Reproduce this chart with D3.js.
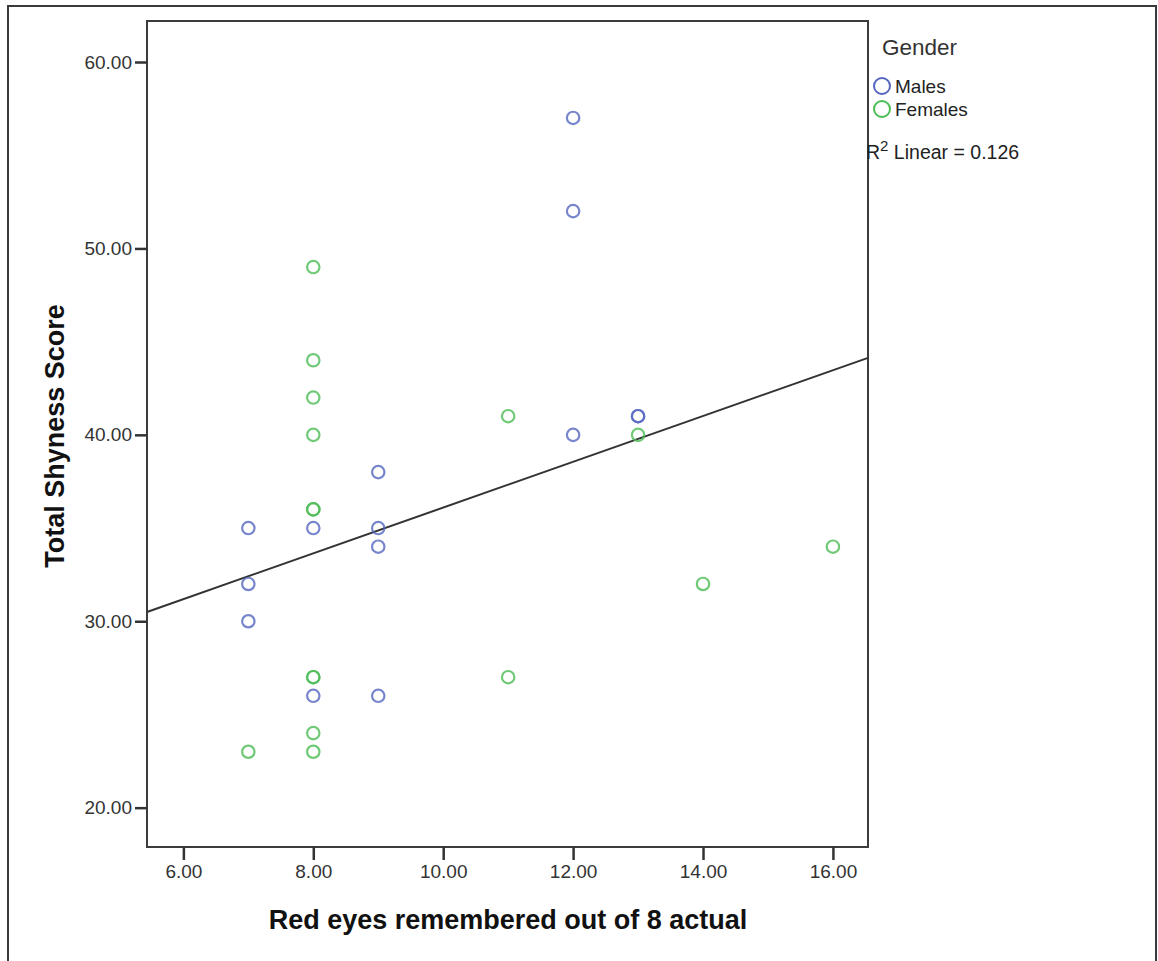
<!DOCTYPE html>
<html>
<head>
<meta charset="utf-8">
<script src="https://cdn.jsdelivr.net/npm/d3@7"></script>
<style>
  html, body { margin: 0; padding: 0; background: #fff; }
  svg text { font-family: "Liberation Sans", Arial, sans-serif; }
</style>
</head>
<body>
<svg id="chart" width="1158" height="961"></svg>
<script>
// Red eyes remembered vs. total shyness score, by gender
const genders = ["Males", "Females"];
const maleRedEyes   = [12, 12, 13, 13, 12, 9, 7, 8, 9, 9, 7, 7, 8, 9];
const maleShyness   = [57, 52, 41, 41, 40, 38, 35, 35, 35, 34, 32, 30, 26, 26];
const femaleRedEyes = [8, 8, 8, 8, 11, 8, 8, 13, 16, 14, 8, 8, 11, 8, 7, 8];
const femaleShyness = [49, 44, 42, 40, 41, 36, 36, 40, 34, 32, 27, 27, 27, 24, 23, 23];
const xTicks = [6, 8, 10, 12, 14, 16];
const yTicks = [20, 30, 40, 50, 60];
const rSquaredLabel = "0.126";

const colors = { Males: "#5566c0", Females: "#4cbc55" };

const points = [
  ...maleRedEyes.map((x, i) => ({ g: "Males", x, y: maleShyness[i] })),
  ...femaleRedEyes.map((x, i) => ({ g: "Females", x, y: femaleShyness[i] }))
];

const svg = d3.select("#chart");
const plot = { left: 147, top: 21, right: 868, bottom: 847 };

const x = d3.scaleLinear().domain([5.44, 16.54]).range([plot.left, plot.right]);
const y = d3.scaleLinear().domain([17.89, 62.2]).range([plot.bottom, plot.top]);

// outer chart frame (open at the bottom)
svg.append("path")
  .attr("d", "M8,961 L8,6 L1156,6 L1156,961")
  .attr("fill", "none").attr("stroke", "#3a3a3a").attr("stroke-width", 2);

// plot area frame
svg.append("rect")
  .attr("x", plot.left).attr("y", plot.top)
  .attr("width", plot.right - plot.left).attr("height", plot.bottom - plot.top)
  .attr("fill", "none").attr("stroke", "#3c3c3c").attr("stroke-width", 2);

// axes
const yAxis = d3.axisLeft(y).tickValues(yTicks).tickFormat(d3.format(".2f")).tickSize(12).tickPadding(3);
const xAxis = d3.axisBottom(x).tickValues(xTicks).tickFormat(d3.format(".2f")).tickSize(13).tickPadding(5);

const gy = svg.append("g").attr("transform", `translate(${plot.left},0)`).call(yAxis);
const gx = svg.append("g").attr("transform", `translate(0,${plot.bottom})`).call(xAxis);
[gx, gy].forEach(g => {
  g.select(".domain").remove();
  g.selectAll(".tick line").attr("stroke", "#333").attr("stroke-width", 2.5);
  g.selectAll(".tick text").attr("fill", "#333")
    .style("font-size", "19px").style("font-family", "'Liberation Sans', Arial, sans-serif");
});

// axis titles
svg.append("text")
  .attr("x", 508).attr("y", 929)
  .attr("text-anchor", "middle")
  .style("font-size", "27px").style("font-weight", "bold").attr("fill", "#111")
  .text("Red eyes remembered out of 8 actual");

svg.append("text")
  .attr("transform", "translate(64,436) rotate(-90)")
  .attr("text-anchor", "middle")
  .style("font-size", "27px").style("font-weight", "bold").attr("fill", "#111")
  .text("Total Shyness Score");

// least-squares fit line over all points
const mx = d3.mean(points, d => d.x), my = d3.mean(points, d => d.y);
const sxy = d3.sum(points, d => (d.x - mx) * (d.y - my));
const sxx = d3.sum(points, d => (d.x - mx) ** 2);
const slope = sxy / sxx, intercept = my - slope * mx;
const [x0, x1] = x.domain();

svg.append("line")
  .attr("x1", x(x0)).attr("y1", y(intercept + slope * x0))
  .attr("x2", x(x1)).attr("y2", y(intercept + slope * x1))
  .attr("stroke", "#333").attr("stroke-width", 2);

// scatter points
svg.append("g").selectAll("circle")
  .data(points)
  .join("circle")
  .attr("cx", d => x(d.x)).attr("cy", d => y(d.y))
  .attr("r", 6.2)
  .attr("fill", "none")
  .attr("stroke", d => colors[d.g])
  .attr("stroke-width", 2.2)
  .attr("stroke-opacity", 0.8);

// legend
const lg = svg.append("g");
lg.append("text").attr("x", 882).attr("y", 55)
  .style("font-size", "22.5px").attr("fill", "#333").text("Gender");

genders.forEach((g, i) => {
  const cy = 86 + i * 23;
  lg.append("circle").attr("cx", 882).attr("cy", cy).attr("r", 8)
    .attr("fill", "none").attr("stroke", colors[g]).attr("stroke-width", 2);
  lg.append("text").attr("x", 895).attr("y", cy + 7)
    .style("font-size", "19px").attr("fill", "#222").text(g);
});

const r2 = lg.append("text").attr("x", 866).attr("y", 159)
  .style("font-size", "19.5px").attr("fill", "#222");
r2.append("tspan").text("R");
r2.append("tspan").attr("dy", -8).style("font-size", "15px").text("2");
r2.append("tspan").attr("dy", 8).text(" Linear = " + rSquaredLabel);
</script>
</body>
</html>
